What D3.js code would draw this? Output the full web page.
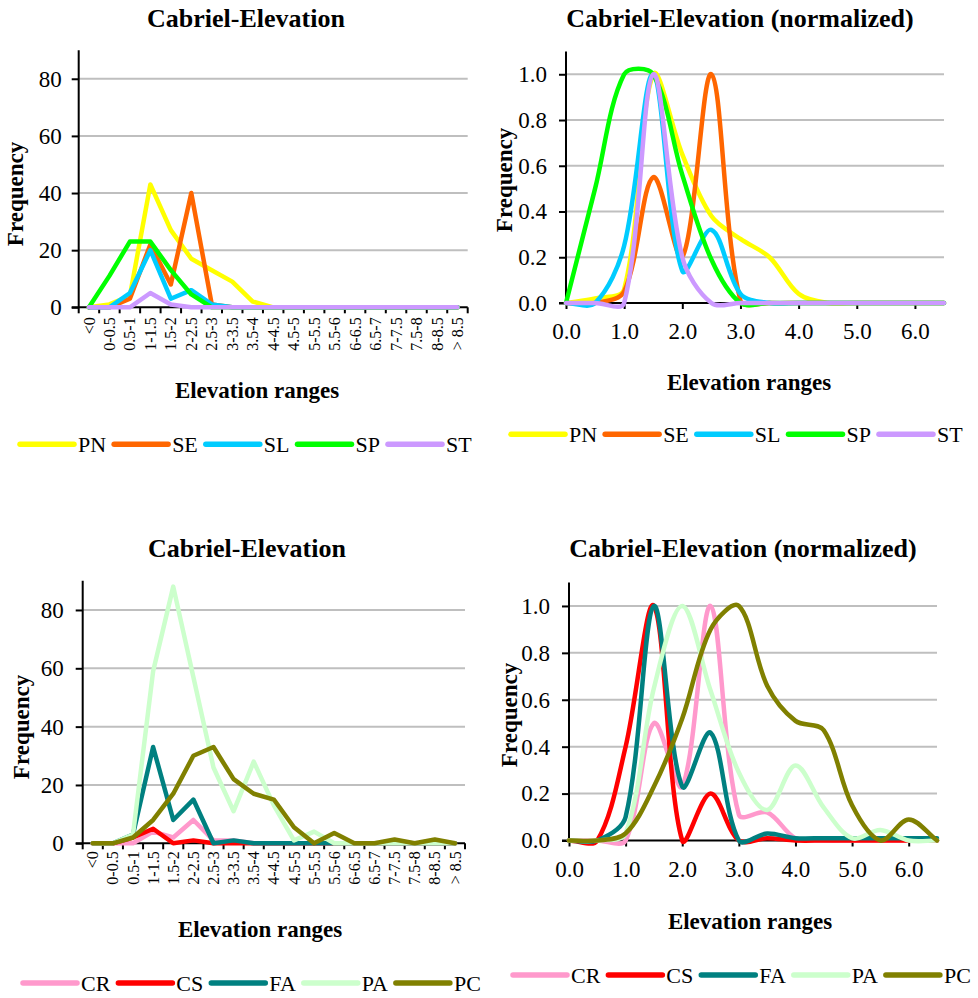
<!DOCTYPE html>
<html>
<head>
<meta charset="utf-8">
<script src="https://cdn.jsdelivr.net/npm/d3@7"></script>
<style>
  html, body { margin: 0; padding: 0; background: #ffffff; }
  svg { display: block; }
  text { font-family: "Liberation Serif", "Times New Roman", serif; fill: #000; }
</style>
</head>
<body>
<svg id="fig" width="978" height="998"></svg>
<script>
// ---- categories and tick labels ----
const elevationBins = ["<0", "0-0.5", "0.5-1", "1-1.5", "1.5-2", "2-2.5", "2.5-3", "3-3.5",
  "3.5-4", "4-4.5", "4.5-5", "5-5.5", "5.5-6", "6-6.5", "6.5-7", "7-7.5", "7.5-8", "8-8.5", "> 8.5"];
const normPositions = [0.0, 0.5, 1.0, 1.5, 2.0, 2.5, 3.0, 3.5, 4.0, 4.5, 5.0, 5.5, 6.0, 6.5];
const rawTicksY = [0, 20, 40, 60, 80];
const normTicksY = [0, 0.2, 0.4, 0.6, 0.8, 1.0];
const normTicksX = [0, 1, 2, 3, 4, 5, 6];

// ---- series names and colours ----
const namesTop = ["PN", "SE", "SL", "SP", "ST"];
const colorsTop = ["#FFFF00", "#FF6600", "#00CCFF", "#00FF00", "#CC99FF"];
const namesBottom = ["CR", "CS", "FA", "PA", "PC"];
const colorsBottom = ["#FF99CC", "#FF0000", "#008080", "#CCFFCC", "#808000"];

// ---- frequencies per elevation range (top group) ----
const rawPN = [0, 1, 4, 43, 27, 17, 13, 9, 2, 0, 0, 0, 0, 0, 0, 0, 0, 0, 0];
const rawSE = [0, 0, 3, 22, 8, 40, 1, 0, 0, 0, 0, 0, 0, 0, 0, 0, 0, 0, 0];
const rawSL = [0, 0, 5, 20, 3, 6, 1, 0, 0, 0, 0, 0, 0, 0, 0, 0, 0, 0, 0];
const rawSP = [0, 11, 23, 23, 13, 4.5, 0, 0, 0, 0, 0, 0, 0, 0, 0, 0, 0, 0, 0];
const rawST = [0, 0, 0, 5, 1, 0, 0, 0, 0, 0, 0, 0, 0, 0, 0, 0, 0, 0, 0];

// ---- normalized frequencies (top group) ----
const normPN = [0, 0.02, 0.06, 1.0, 0.65, 0.38, 0.28, 0.2, 0.04, 0, 0, 0, 0, 0];
const normSE = [0, 0, 0.05, 0.55, 0.2, 1.0, 0.01, 0, 0, 0, 0, 0, 0, 0];
const normSL = [0, 0, 0.25, 1.0, 0.14, 0.32, 0.04, 0, 0, 0, 0, 0, 0, 0];
const normSP = [0, 0.5, 1.0, 1.0, 0.56, 0.19, 0, 0, 0, 0, 0, 0, 0, 0];
const normST = [0, 0, 0, 1.0, 0.2, 0, 0, 0, 0, 0, 0, 0, 0, 0];

// ---- frequencies per elevation range (bottom group) ----
const rawCR = [0, 0, 0, 4, 2, 8, 1, 1, 0, 0, 0, 0, 0, 0, 0, 0, 0, 0, 0];
const rawCS = [0, 0, 2, 5, 0, 1, 0, 0, 0, 0, 0, 0, 0, 0, 0, 0, 0, 0, 0];
const rawFA = [0, 0, 3, 33, 8, 15, 0, 1, 0, 0, 0, 0, 0, 0, 0, 0, 0, 0, 0];
const rawPA = [0, 0, 3, 59, 88, 57, 26, 11, 28, 13, 1, 4, 0, 0, 0, 0, 0, 0, 0];
const rawPC = [0, 0, 2, 8, 17, 30, 33, 22, 17, 15, 5.5, 0, 3.5, 0, 0, 1.3, 0, 1.3, 0];

// ---- normalized frequencies (bottom group) ----
const normCR = [0, 0, 0, 0.5, 0.23, 1.0, 0.11, 0.12, 0.01, 0, 0, 0, 0, 0];
const normCS = [0, 0, 0.4, 1.0, 0, 0.2, 0, 0.01, 0, 0, 0, 0, 0, 0];
const normFA = [0, 0, 0.1, 1.0, 0.23, 0.46, 0, 0.03, 0.01, 0.01, 0.01, 0.01, 0.01, 0.01];
const normPA = [0, 0, 0.03, 0.65, 1.0, 0.64, 0.29, 0.13, 0.32, 0.14, 0.01, 0.045, 0, 0];
const normPC = [0, 0, 0.03, 0.23, 0.52, 0.9, 1.0, 0.66, 0.51, 0.47, 0.15, 0, 0.09, 0];

const svg = d3.select("#fig");
svg.append("rect").attr("width", 978).attr("height", 998).attr("fill", "#fff");

const GRID = "#BFBFBF";
const LINE_W = 4.5;
const SERIF = "'Liberation Serif','Times New Roman',serif";

// Smoothing curve for d3.line: cubic Bezier segments whose tangents follow the
// neighbouring points, scaled by the relative length of adjacent segments so
// short flat stretches next to steep ones do not swing far past the data.
function SmoothSpline(context) { this._context = context; }
SmoothSpline.prototype = {
  areaStart() { this._line = 0; },
  areaEnd() { this._line = NaN; },
  lineStart() { this._pts = []; },
  point(x, y) { this._pts.push([+x, +y]); },
  lineEnd() {
    const p = this._pts, c = this._context, n = p.length;
    if (!n) return;
    c.moveTo(p[0][0], p[0][1]);
    const dist = (a, b) => Math.hypot(b[0] - a[0], b[1] - a[1]);
    for (let i = 0; i < n - 1; i++) {
      const p0 = p[i - 1] || p[i], p1 = p[i], p2 = p[i + 1], p3 = p[i + 2] || p[i + 1];
      const d01 = dist(p0, p1), d12 = dist(p1, p2), d23 = dist(p2, p3);
      const f = d01 + d12 > 0 ? d12 / (d01 + d12) / 3 : 0;
      const g = d12 + d23 > 0 ? d12 / (d12 + d23) / 3 : 0;
      c.bezierCurveTo(
        p1[0] + f * (p2[0] - p0[0]), p1[1] + f * (p2[1] - p0[1]),
        p2[0] - g * (p3[0] - p1[0]), p2[1] - g * (p3[1] - p1[1]),
        p2[0], p2[1]);
    }
  }
};
const curveSmooth = context => new SmoothSpline(context);

function makeSeries(names, colors, values) {
  return names.map((n, i) => ({ name: n, color: colors[i], values: values[i] }));
}

function drawTexts(g, p) {
  g.append("text")
    .attr("x", p.titleX).attr("y", p.titleY)
    .attr("text-anchor", "middle")
    .style("font-size", "26px").style("font-weight", "bold")
    .text(p.title);
  g.append("text")
    .attr("x", p.xTitleX).attr("y", p.xTitleY)
    .attr("text-anchor", "middle")
    .style("font-size", "23px").style("font-weight", "bold")
    .text("Elevation ranges");
  g.append("text")
    .attr("transform", `translate(${p.yTitleX},${p.yTitleY}) rotate(-90)`)
    .attr("text-anchor", "middle")
    .style("font-size", "23px").style("font-weight", "bold")
    .text("Frequency");
}

function drawLegend(g, series, x0, y0) {
  let x = x0;
  series.forEach(s => {
    g.append("line")
      .attr("x1", x).attr("x2", x + 54).attr("y1", y0).attr("y2", y0)
      .attr("stroke", s.color).attr("stroke-width", 5.5).attr("stroke-linecap", "round");
    const t = g.append("text")
      .attr("x", x + 58).attr("y", y0).attr("dy", "0.35em")
      .style("font-size", "22px")
      .text(s.name);
    x = x + 58 + t.node().getComputedTextLength() + 8;
  });
}

function drawYAxis(g, y, left, right, ticks, fmt, gap) {
  // horizontal gridlines
  g.append("g").selectAll("line").data(ticks.filter(t => t !== 0)).join("line")
    .attr("x1", left).attr("x2", right)
    .attr("y1", d => y(d)).attr("y2", d => y(d))
    .attr("stroke", GRID).attr("stroke-width", 2);
  const ax = g.append("g").attr("transform", `translate(${left},0)`)
    .call(d3.axisLeft(y).tickValues(ticks).tickFormat(fmt).tickSize(7).tickPadding(gap - 7).tickSizeOuter(0));
  ax.select(".domain").remove();
  ax.selectAll(".tick line").attr("stroke", "#000").attr("stroke-width", 2);
  ax.selectAll(".tick text").style("font-size", "23px")
    .style("font-family", SERIF).attr("fill", "#000");
  g.append("line")
    .attr("x1", left).attr("x2", left)
    .attr("y1", y.range()[0]).attr("y2", y.range()[1])
    .attr("stroke", "#000").attr("stroke-width", 2);
}

// Line chart of counts over the categorical elevation ranges
function drawRawPanel(p) {
  const g = svg.append("g");
  const x = d3.scaleBand().domain(elevationBins).range([p.left, p.right]);
  const y = d3.scaleLinear().domain([0, 90]).range([p.bottom, p.top]);

  drawYAxis(g, y, p.left, p.right, rawTicksY, d3.format("d"), p.yGap);

  // x axis with boundary ticks and rotated category labels
  const ax = g.append("g").attr("transform", `translate(0,${p.bottom})`)
    .call(d3.axisBottom(x).tickSize(0).tickSizeOuter(0));
  ax.select(".domain").remove();
  ax.selectAll(".tick text")
    .attr("transform", "rotate(-90)")
    .attr("x", -p.catGap).attr("y", 0).attr("dy", "0.35em")
    .attr("text-anchor", "end")
    .style("font-size", "16px")
    .style("font-family", SERIF).attr("fill", "#000");
  const bounds = elevationBins.map(b => x(b)).concat([x.range()[1]]);
  g.append("g").selectAll("line").data(bounds).join("line")
    .attr("x1", d => d).attr("x2", d => d)
    .attr("y1", p.bottom).attr("y2", p.bottom + 6)
    .attr("stroke", "#000").attr("stroke-width", 2);
  g.append("line")
    .attr("x1", p.left - 7).attr("x2", p.right).attr("y1", p.bottom).attr("y2", p.bottom)
    .attr("stroke", "#000").attr("stroke-width", 2);

  const line = d3.line()
    .x((d, i) => x(elevationBins[i]) + x.bandwidth() / 2)
    .y(d => y(d));
  g.append("g").selectAll("path").data(p.series).join("path")
    .attr("d", s => line(s.values))
    .attr("fill", "none").attr("stroke", s => s.color)
    .attr("stroke-width", LINE_W).attr("stroke-linejoin", "round").attr("stroke-linecap", "round");

  drawTexts(g, p);
  drawLegend(g, p.series, p.legendX, p.legendY);
}

// Smoothed normalized curves on a numeric elevation axis
function drawNormPanel(p) {
  const g = svg.append("g");
  const x = d3.scaleLinear().domain([0, 6.5]).range([p.left, p.right]);
  const y = d3.scaleLinear().domain([0, 1.1]).range([p.bottom, p.top]);

  drawYAxis(g, y, p.left, p.right, normTicksY, d3.format(".1f"), p.yGap);

  const ax = g.append("g").attr("transform", `translate(0,${p.bottom})`)
    .call(d3.axisBottom(x).tickValues(normTicksX).tickFormat(d3.format(".1f")).tickSize(6).tickSizeOuter(0));
  ax.select(".domain").remove();
  ax.selectAll(".tick line").attr("stroke", "#000").attr("stroke-width", 2);
  ax.selectAll(".tick text")
    .attr("y", 28).attr("dy", "0.35em")
    .style("font-size", "23px")
    .style("font-family", SERIF).attr("fill", "#000");
  g.append("line")
    .attr("x1", p.left - 7).attr("x2", p.right).attr("y1", p.bottom).attr("y2", p.bottom)
    .attr("stroke", "#000").attr("stroke-width", 2);

  const line = d3.line()
    .x((d, i) => x(normPositions[i]))
    .y(d => y(d))
    .curve(curveSmooth);
  g.append("g").selectAll("path").data(p.series).join("path")
    .attr("d", s => line(s.values))
    .attr("fill", "none").attr("stroke", s => s.color)
    .attr("stroke-width", LINE_W).attr("stroke-linejoin", "round").attr("stroke-linecap", "round");

  drawTexts(g, p);
  drawLegend(g, p.series, p.legendX, p.legendY);
}

drawRawPanel({
  title: "Cabriel-Elevation",
  series: makeSeries(namesTop, colorsTop, [rawPN, rawSE, rawSL, rawSP, rawST]),
  left: 78.7, right: 467.7, bottom: 307.3, top: 50.2,
  yGap: 17, catGap: 10,
  titleX: 246, titleY: 27, xTitleX: 257, xTitleY: 398, yTitleX: 23, yTitleY: 194,
  legendX: 20, legendY: 444.3
});

drawNormPanel({
  title: "Cabriel-Elevation (normalized)",
  series: makeSeries(namesTop, colorsTop, [normPN, normSE, normSL, normSP, normST]),
  left: 566, right: 944, bottom: 303, top: 51.4,
  yGap: 19,
  titleX: 740, titleY: 27, xTitleX: 749, xTitleY: 390, yTitleX: 512, yTitleY: 180,
  legendX: 511, legendY: 434.3
});

drawRawPanel({
  title: "Cabriel-Elevation",
  series: makeSeries(namesBottom, colorsBottom, [rawCR, rawCS, rawFA, rawPA, rawPC]),
  left: 82.7, right: 465, bottom: 843.3, top: 580.8,
  yGap: 19, catGap: 8,
  titleX: 247, titleY: 557, xTitleX: 260, xTitleY: 937, yTitleX: 28.5, yTitleY: 727,
  legendX: 23, legendY: 983
});

drawNormPanel({
  title: "Cabriel-Elevation (normalized)",
  series: makeSeries(namesBottom, colorsBottom, [normCR, normCS, normFA, normPA, normPC]),
  left: 569, right: 937, bottom: 840.5, top: 582.5,
  yGap: 19,
  titleX: 743, titleY: 557, xTitleX: 750, xTitleY: 929, yTitleX: 517, yTitleY: 715,
  legendX: 513, legendY: 975
});
</script>
</body>
</html>
